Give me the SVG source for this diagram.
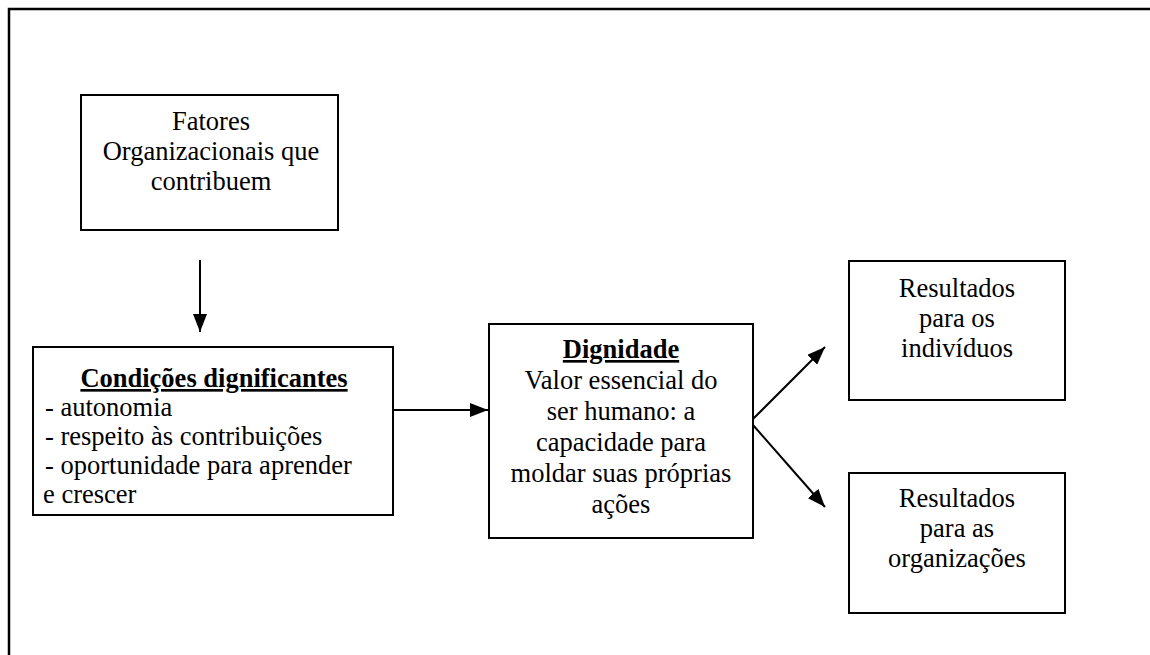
<svg xmlns="http://www.w3.org/2000/svg" width="1150" height="655" viewBox="0 0 1150 655">
  <style>
    .box { fill: #ffffff; stroke: #000000; stroke-width: 2; }
    .frame { fill: none; stroke: #000000; stroke-width: 2.5; }
    .t { font-family: 'Liberation Serif', Tinos, 'Times New Roman', 'DejaVu Serif', serif; font-size: 26.5px; fill: #000000; }
    .c { text-anchor: middle; }
    .b { font-weight: bold; text-decoration: underline; }
    .edge { fill: none; stroke: #000000; stroke-width: 2; }
  </style>
  <defs>
    <marker id="arrow" viewBox="0 0 18 14" refX="18" refY="7" markerWidth="18" markerHeight="14" markerUnits="userSpaceOnUse" orient="auto">
      <path d="M0,0 L18,7 L0,14 Z" fill="#000000"/>
    </marker>
  </defs>

  <rect width="1150" height="655" fill="#ffffff"/>

  <!-- page frame: top and left edges -->
  <path class="frame" d="M9,655 L9,9 L1150,9"/>

  <g id="fatores">
    <rect class="box" x="81" y="95" width="257" height="135"/>
    <text class="t c" x="211" y="130">Fatores</text>
    <text class="t c" x="211" y="160">Organizacionais que</text>
    <text class="t c" x="211" y="190">contribuem</text>
  </g>

  <g id="condicoes">
    <rect class="box" x="33" y="347" width="360" height="168"/>
    <text class="t c b" x="214" y="387">Condições dignificantes</text>
    <text class="t" x="45" y="416">- autonomia</text>
    <text class="t" x="45" y="445">- respeito às contribuições</text>
    <text class="t" x="45" y="474">- oportunidade para aprender</text>
    <text class="t" x="43" y="503">e crescer</text>
  </g>

  <g id="dignidade">
    <rect class="box" x="489" y="324" width="264" height="214"/>
    <text class="t c b" x="621" y="358">Dignidade</text>
    <text class="t c" x="621" y="389">Valor essencial do</text>
    <text class="t c" x="621" y="420">ser humano: a</text>
    <text class="t c" x="621" y="451">capacidade para</text>
    <text class="t c" x="621" y="482">moldar suas próprias</text>
    <text class="t c" x="621" y="513">ações</text>
  </g>

  <g id="resultados-individuos">
    <rect class="box" x="849" y="261" width="216" height="139"/>
    <text class="t c" x="957" y="297">Resultados</text>
    <text class="t c" x="957" y="327">para os</text>
    <text class="t c" x="957" y="357">indivíduos</text>
  </g>

  <g id="resultados-organizacoes">
    <rect class="box" x="849" y="473" width="216" height="140"/>
    <text class="t c" x="957" y="507">Resultados</text>
    <text class="t c" x="957" y="537">para as</text>
    <text class="t c" x="957" y="567">organizações</text>
  </g>

  <g id="connectors">
    <line class="edge" x1="200" y1="260" x2="200" y2="332" marker-end="url(#arrow)"/>
    <line class="edge" x1="393" y1="410" x2="488" y2="410" marker-end="url(#arrow)"/>
    <line class="edge" x1="753" y1="419" x2="825" y2="347" marker-end="url(#arrow)"/>
    <line class="edge" x1="753" y1="425" x2="825" y2="507" marker-end="url(#arrow)"/>
  </g>
</svg>
